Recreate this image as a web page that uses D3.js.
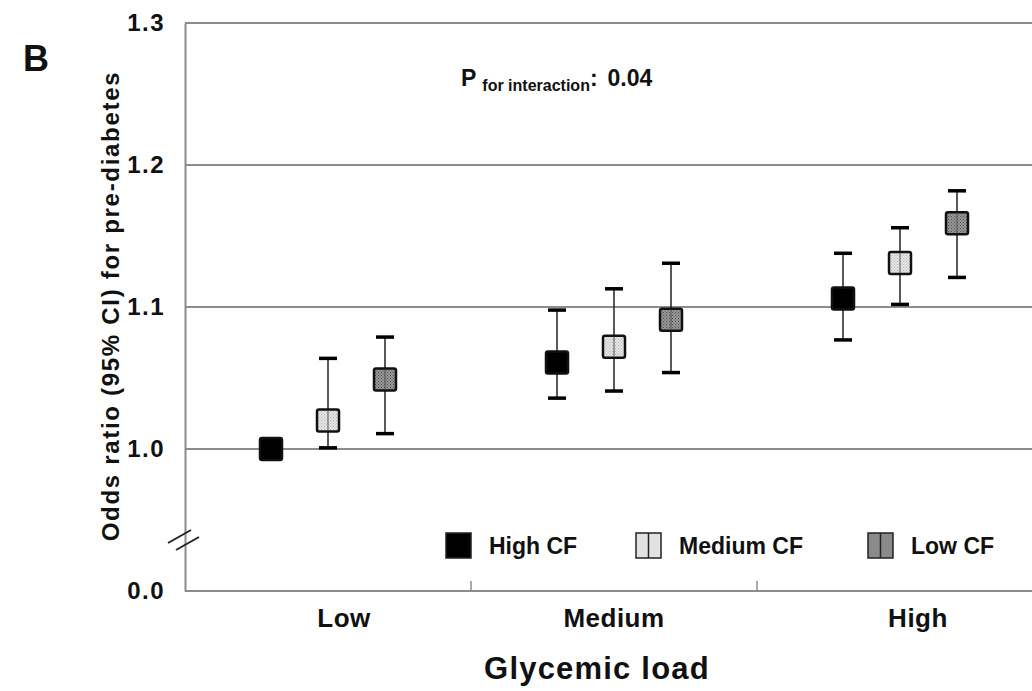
<!DOCTYPE html>
<html>
<head>
<meta charset="utf-8">
<script src="https://cdn.jsdelivr.net/npm/d3@7"></script>
<style>
  body { margin: 0; background: #fff; }
  text { font-family: "Liberation Sans", Arial, sans-serif; font-weight: bold; fill: #111; }
</style>
</head>
<body>
<svg></svg>
<script>
// glycemic load groups and cereal-fibre (CF) levels
const groups = ['Low', 'Medium', 'High'];
const series = ['High CF', 'Medium CF', 'Low CF'];

// odds ratios, one array per CF series, in group order
const orHigh = [1.000, 1.061, 1.106];
const orMedium = [1.020, 1.072, 1.131];
const orLow = [1.049, 1.091, 1.159];

// 95% CI bounds (null = no bar drawn, reference)
const loHigh = [null, 1.036, 1.077];
const hiHigh = [null, 1.098, 1.138];
const loMedium = [1.001, 1.041, 1.102];
const hiMedium = [1.064, 1.113, 1.156];
const loLow = [1.011, 1.054, 1.121];
const hiLow = [1.079, 1.131, 1.182];

const yTicks = [1.0, 1.1, 1.2, 1.3];
const yTickLabels = ['1.0', '1.1', '1.2', '1.3'];

const W = 1032, H = 691;
const svg = d3.select('svg')
    .attr('width', W)
    .attr('height', H);

const mLeft = 185, mRight = 1043, mTop = 23, mBottom = 591;

const x = d3.scaleBand()
    .domain(groups)
    .range([mLeft, mRight]);

const xOff = d3.scalePoint()
    .domain(series)
    .range([-57, 57]);

// axis is broken: bottom of the axis is 0.0, the scale starts at 0.9
const y = d3.scaleLinear()
    .domain([0.9, 1.3])
    .range([mBottom, mTop]);

// patterns for the hatched markers
const defs = svg.append('defs');
function dotPattern(id, bg, dot) {
  const p = defs.append('pattern')
      .attr('id', id)
      .attr('width', 3)
      .attr('height', 3)
      .attr('patternUnits', 'userSpaceOnUse');
  p.append('rect').attr('width', 3).attr('height', 3).attr('fill', bg);
  p.append('rect').attr('width', 1).attr('height', 1).attr('fill', dot);
  p.append('rect').attr('x', 1.5).attr('y', 1.5).attr('width', 1).attr('height', 1).attr('fill', dot);
}
dotPattern('pMed', '#e6e6e6', '#b4b4b4');
dotPattern('pLow', '#9a9a9a', '#4a4a4a');

const fills = { 'High CF': '#000', 'Medium CF': 'url(#pMed)', 'Low CF': 'url(#pLow)' };
const legendFills = { 'High CF': '#000', 'Medium CF': '#e2e2e2', 'Low CF': '#8a8a8a' };

// gridlines
svg.append('g')
  .selectAll('line')
  .data(yTicks)
  .join('line')
    .attr('x1', mLeft)
    .attr('x2', mRight)
    .attr('y1', d => y(d))
    .attr('y2', d => y(d))
    .attr('stroke', '#8c8c8c')
    .attr('stroke-width', 2);

// y axis
const yAxis = svg.append('g')
    .attr('transform', `translate(${mLeft},0)`)
    .call(d3.axisLeft(y)
      .tickValues([0.9].concat(yTicks))
      .tickSize(0)
      .tickPadding(20)
      .tickFormat((d, i) => i === 0 ? '0.0' : yTickLabels[i - 1]));
yAxis.select('.domain').attr('stroke', '#8c8c8c').attr('stroke-width', 2);
yAxis.selectAll('text')
    .style('font-size', '24px')
    .style('letter-spacing', '1.5px')
    .style('font-family', '"Liberation Sans", Arial, sans-serif')
    .style('font-weight', 'bold')
    .attr('fill', '#111');

// x axis
const xAxis = svg.append('g')
    .attr('transform', `translate(0,${mBottom})`);
xAxis.append('line')
    .attr('x1', mLeft)
    .attr('x2', mRight)
    .attr('stroke', '#8c8c8c')
    .attr('stroke-width', 2);
xAxis.selectAll('.tk')
  .data(groups.slice(1))
  .join('line')
    .attr('class', 'tk')
    .attr('x1', d => x(d))
    .attr('x2', d => x(d))
    .attr('y1', 0)
    .attr('y2', -10)
    .attr('stroke', '#8c8c8c')
    .attr('stroke-width', 1.5);
xAxis.selectAll('.lbl')
  .data(groups)
  .join('text')
    .attr('class', 'lbl')
    .attr('x', d => x(d) + x.bandwidth() / 2 + (d === 'Low' ? 16 : d === 'High' ? 18 : 0))
    .attr('y', 36)
    .attr('text-anchor', 'middle')
    .style('font-size', '26px')
    .style('letter-spacing', '0.5px')
    .text(d => d);

// axis break marks
const brk = svg.append('g').attr('stroke', '#222').attr('stroke-width', 2);
brk.append('line').attr('x1', 168).attr('y1', 543).attr('x2', 191).attr('y2', 530);
brk.append('line').attr('x1', 176).attr('y1', 550).attr('x2', 199).attr('y2', 537);

// error bars and markers
const rows = [];
const vals = { 'High CF': [orHigh, loHigh, hiHigh], 'Medium CF': [orMedium, loMedium, hiMedium], 'Low CF': [orLow, loLow, hiLow] };
series.forEach(s => {
  groups.forEach((g, i) => {
    rows.push({ s, g, v: vals[s][0][i], lo: vals[s][1][i], hi: vals[s][2][i] });
  });
});

const cx = d => x(d.g) + x.bandwidth() / 2 + xOff(d.s);
const bars = rows.filter(d => d.lo !== null);

svg.append('g')
  .selectAll('line')
  .data(bars)
  .join('line')
    .attr('x1', cx)
    .attr('x2', cx)
    .attr('y1', d => y(d.lo))
    .attr('y2', d => y(d.hi))
    .attr('stroke', '#222')
    .attr('stroke-width', 1.5);

const caps = svg.append('g');
['lo', 'hi'].forEach(k => {
  caps.append('g')
    .selectAll('rect')
    .data(bars)
    .join('rect')
      .attr('x', d => cx(d) - 9)
      .attr('y', d => y(d[k]) - 1.5)
      .attr('width', 18)
      .attr('height', 3.5)
      .attr('fill', '#000');
});

svg.append('g')
  .selectAll('rect')
  .data(rows)
  .join('rect')
    .attr('x', d => cx(d) - 11)
    .attr('y', d => y(d.v) - 11)
    .attr('width', 22)
    .attr('height', 22)
    .attr('rx', 2)
    .attr('fill', d => fills[d.s])
    .attr('stroke', '#111')
    .attr('stroke-width', 2.5);

// whisker visible through the hatched markers
svg.append('g')
  .selectAll('line')
  .data(bars.filter(d => d.s !== 'High CF'))
  .join('line')
    .attr('x1', cx)
    .attr('x2', cx)
    .attr('y1', d => y(d.v) - 10)
    .attr('y2', d => y(d.v) + 10)
    .attr('stroke', '#555')
    .attr('stroke-width', 1);

// legend
const legX = [446, 636, 868];
const leg = svg.append('g');
series.forEach((s, i) => {
  const g = leg.append('g').attr('transform', `translate(${legX[i]},533)`);
  g.append('rect')
    .attr('width', 25)
    .attr('height', 25)
    .attr('fill', legendFills[s])
    .attr('stroke', '#222')
    .attr('stroke-width', 1.5);
  if (i > 0) {
    g.append('line')
      .attr('x1', 12.5).attr('x2', 12.5)
      .attr('y1', 0).attr('y2', 25)
      .attr('stroke', '#222')
      .attr('stroke-width', 1.5);
  }
  g.append('text')
    .attr('x', 43)
    .attr('y', 21)
    .style('font-size', '23px')
    .text(s);
});

// y axis title
svg.append('text')
    .attr('transform', 'translate(119,306) rotate(-90)')
    .attr('text-anchor', 'middle')
    .style('font-size', '24px')
    .style('letter-spacing', '1.7px')
    .text('Odds ratio (95% CI) for pre-diabetes');

// x axis title
svg.append('text')
    .attr('x', 597)
    .attr('y', 679)
    .attr('text-anchor', 'middle')
    .style('font-size', '31px')
    .style('letter-spacing', '1.2px')
    .text('Glycemic load');

// panel letter
svg.append('text')
    .attr('x', 23)
    .attr('y', 71)
    .style('font-size', '36px')
    .text('B');

// interaction p value
const p = svg.append('text')
    .attr('x', 461)
    .attr('y', 86)
    .style('font-size', '23px');
p.append('tspan').text('P');
p.append('tspan').attr('dx', 6).attr('dy', 5).style('font-size', '16px').text('for interaction');
p.append('tspan').attr('dy', -5).text(':');
p.append('tspan').attr('dx', 10).text('0.04');
</script>
</body>
</html>
